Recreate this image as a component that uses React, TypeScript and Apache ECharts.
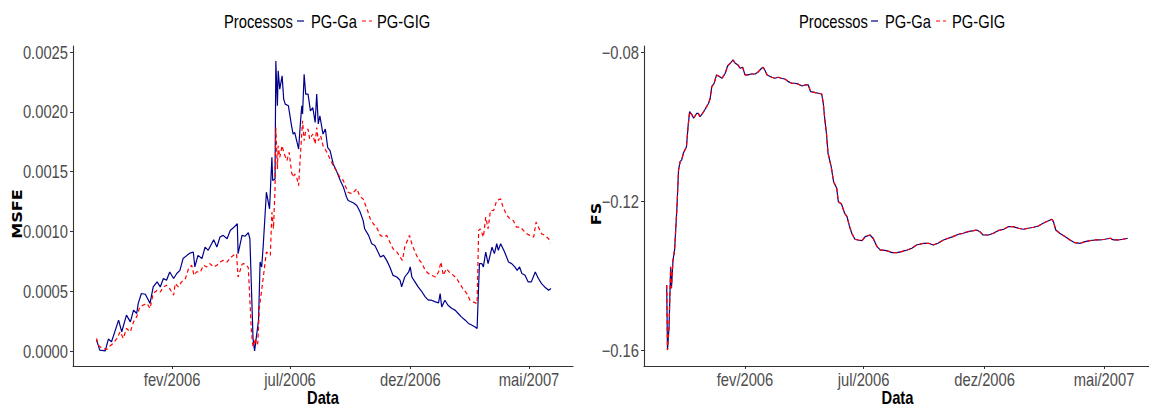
import { useEffect, useRef } from "react";
import * as echarts from "echarts";

// Observation dates are stored as day offsets from the first day of the sample.
const BASE_DATE = Date.UTC(2005, 9, 25);
const DAY_MS = 86400000;

const MONTHS_PT = ["jan", "fev", "mar", "abr", "mai", "jun", "jul", "ago", "set", "out", "nov", "dez"];
const xTickDates = ["2006-02-01", "2006-07-01", "2006-12-01", "2007-05-01"];
const msfeTicks = [0, 0.0005, 0.001, 0.0015, 0.002, 0.0025];
const fsTicks = [-0.16, -0.12, -0.08];

const legendTitle = "Processos";
const seriesNames = ["PG-Ga", "PG-GIG"];
const xTitle = "Data";
const yTitles = ["MSFE", "FS"];

// MSFE, PG-Ga process
const msfeGaDays = [
  3, 7, 14, 18, 22, 31, 35, 41, 46, 50, 54, 56, 60, 65, 69, 71, 75, 80, 84, 88, 92, 96, 101, 105, 109, 113, 118,
  122, 126, 128, 132, 137, 141, 145, 152, 156, 160, 164, 169, 173, 177, 182, 183, 188, 192, 196, 198, 202, 204,
  206, 209, 211, 213, 215, 219, 223, 226, 227, 230, 231, 233, 234, 236, 239, 241, 243, 247, 251, 253, 255, 258,
  260, 262, 264, 265, 267, 269, 272, 275, 278, 281, 283, 285, 287, 291, 294, 297, 300, 304, 308, 313, 317, 319,
  321, 323, 330, 334, 338, 342, 344, 349, 353, 357, 361, 364, 368, 372, 376, 380, 385, 389, 391, 395, 400, 402,
  404, 408, 412, 417, 421, 425, 429, 434, 438, 440, 442, 446, 450, 455, 459, 463, 467, 472, 476, 480, 484, 487,
  490, 493, 495, 498, 501, 506, 509, 512, 514, 517, 522, 527, 531, 535, 538, 541, 544, 548, 552, 556, 561, 565,
  569, 573, 578, 581,
];
const msfeGaValues = [
  0.000092, 0.000008, 0.000002, 0.0001, 0.000078, 0.000258, 0.000161, 0.0003, 0.000244, 0.000342, 0.000314,
  0.000398, 0.000481, 0.000475, 0.000425, 0.000398, 0.000536, 0.000578, 0.000536, 0.000606, 0.000592, 0.000661,
  0.000606, 0.000648, 0.000675, 0.000773, 0.0008, 0.000819, 0.000828, 0.000703, 0.0008, 0.000773, 0.000869,
  0.000842, 0.000931, 0.000869, 0.000953, 0.000967, 0.000939, 0.001008, 0.00103, 0.001064, 0.000814, 0.000967,
  0.00096, 0.000989, 0.000939, 0.000106, 0.0, 0.000106, 0.000258, 0.000744, 0.000703, 0.000883, 0.001328,
  0.001189, 0.001619, 0.001425, 0.001439, 0.002425, 0.00205, 0.002342, 0.002189, 0.0023, 0.002106, 0.002064,
  0.00205, 0.001883, 0.001814, 0.001828, 0.001744, 0.001689, 0.001883, 0.00205, 0.001981, 0.002314, 0.002148,
  0.002148, 0.002008, 0.002036, 0.001911, 0.002148, 0.001898, 0.001967, 0.001814, 0.001856, 0.0017, 0.001675,
  0.001564, 0.001508, 0.001425, 0.001369, 0.001328, 0.001286, 0.001258, 0.001238, 0.001217, 0.001167, 0.001092,
  0.001022, 0.000967, 0.000897, 0.000883, 0.000828, 0.000786, 0.0008, 0.000758, 0.000703, 0.000633, 0.000619,
  0.000592, 0.000536, 0.000619, 0.000661, 0.000703, 0.000619, 0.000578, 0.000536, 0.000494, 0.000453, 0.000425,
  0.000425, 0.000411, 0.000403, 0.000481, 0.000369, 0.000425, 0.000383, 0.000356, 0.000342, 0.000314, 0.000286,
  0.000258, 0.000231, 0.000217, 0.000203, 0.000189, 0.000731, 0.000731, 0.000703, 0.000828, 0.000731, 0.000869,
  0.000814, 0.000897, 0.000842, 0.000897, 0.000828, 0.000744, 0.000731, 0.000703, 0.000675, 0.000703, 0.000648,
  0.000633, 0.000578, 0.000578, 0.000661, 0.000606, 0.000564, 0.000536, 0.000508, 0.000522,
];

// MSFE, PG-GIG process
const msfeGigDays = [
  3, 5, 10, 16, 20, 24, 29, 33, 37, 41, 46, 50, 54, 58, 62, 67, 71, 75, 80, 84, 88, 92, 96, 101, 103, 107, 111,
  116, 120, 124, 127, 130, 135, 139, 143, 147, 152, 156, 160, 164, 169, 173, 177, 181, 183, 188, 190, 194, 196,
  200, 202, 205, 206, 208, 210, 215, 219, 224, 226, 228, 230, 231, 233, 234, 236, 239, 241, 245, 248, 251, 253,
  255, 258, 260, 262, 265, 267, 269, 272, 274, 278, 281, 283, 285, 288, 291, 296, 300, 304, 308, 313, 317, 319,
  321, 323, 328, 334, 338, 342, 347, 351, 355, 359, 364, 368, 372, 376, 380, 385, 389, 392, 395, 401, 404, 408,
  412, 417, 421, 425, 429, 434, 438, 441, 444, 448, 453, 457, 461, 465, 469, 474, 478, 482, 487, 489, 491, 495,
  498, 501, 504, 508, 512, 517, 520, 525, 529, 533, 537, 542, 546, 550, 554, 559, 562, 565, 569, 573, 578, 580,
];
const msfeGigValues = [
  0.000106, 0.00005, 0.000022, 0.000014, 0.000042, 0.000064, 0.000106, 0.000161, 0.000106, 0.000189, 0.000161,
  0.000244, 0.000286, 0.000369, 0.000383, 0.000398, 0.000356, 0.000481, 0.000508, 0.000494, 0.000536, 0.00055,
  0.000522, 0.000467, 0.000564, 0.000536, 0.000578, 0.000606, 0.000689, 0.000717, 0.000633, 0.000661, 0.000661,
  0.000717, 0.000703, 0.000731, 0.000703, 0.000717, 0.000744, 0.000758, 0.000744, 0.000779, 0.0008, 0.000814,
  0.000619, 0.000725, 0.000731, 0.000717, 0.000696, 0.000158, 0.000036, 0.000106, 0.00005, 0.000064, 0.000356,
  0.000613, 0.000828, 0.0008, 0.001161, 0.001022, 0.001356, 0.001869, 0.001522, 0.001717, 0.001619, 0.001717,
  0.001661, 0.001592, 0.001661, 0.001494, 0.001453, 0.001481, 0.001439, 0.001383, 0.001606, 0.001925, 0.001758,
  0.001842, 0.001856, 0.001772, 0.001814, 0.001731, 0.001869, 0.001758, 0.0018, 0.001717, 0.001661, 0.001606,
  0.00155, 0.001508, 0.001446, 0.001425, 0.001383, 0.001356, 0.001328, 0.001314, 0.001356, 0.001292, 0.001272,
  0.001189, 0.001106, 0.001064, 0.001036, 0.000967, 0.000953, 0.000967, 0.000911, 0.000856, 0.000828, 0.000786,
  0.000758, 0.000869, 0.000967, 0.000897, 0.000828, 0.000773, 0.000731, 0.000675, 0.000648, 0.000633, 0.000619,
  0.000661, 0.000744, 0.000633, 0.000689, 0.000648, 0.000633, 0.000606, 0.000564, 0.000522, 0.000481, 0.000425,
  0.000411, 0.000397, 0.001008, 0.001022, 0.000953, 0.001119, 0.001022, 0.001175, 0.001175, 0.001258, 0.001272,
  0.001203, 0.001133, 0.001106, 0.001092, 0.001036, 0.001036, 0.001008, 0.000981, 0.000967, 0.000953, 0.001078,
  0.001036, 0.000981, 0.000967, 0.000939, 0.000903,
];

// FS, both processes (the two curves coincide)
const fsDays = [
  0, 1, 3, 5, 6, 8, 10, 13, 15, 17, 19, 21, 23, 25, 27, 29, 32, 34, 38, 40, 42, 44, 48, 53, 55, 57, 60, 63, 67,
  70, 74, 77, 81, 84, 86, 90, 93, 96, 99, 103, 107, 112, 116, 120, 122, 124, 127, 133, 137, 141, 145, 150, 154,
  158, 162, 166, 171, 175, 179, 182, 188, 192, 196, 198, 200, 202, 204, 208, 211, 215, 217, 221, 225, 228, 231,
  234, 238, 242, 247, 251, 257, 261, 266, 270, 278, 285, 291, 297, 304, 310, 316, 325, 331, 337, 343, 350, 356,
  362, 369, 375, 381, 388, 392, 396, 400, 407, 413, 419, 426, 432, 438, 445, 451, 457, 464, 470, 476, 483, 487,
  489, 492, 497, 504, 510, 516, 523, 529, 535, 542, 548, 554, 561, 565, 571, 577, 583,
];
const fsGaValues = [
  -0.14255, -0.16, -0.15374, -0.13764, -0.14344, -0.13584, -0.13315, -0.12153, -0.11168, -0.10945, -0.10899,
  -0.10719, -0.10631, -0.10542, -0.10005, -0.09603, -0.09691, -0.0978, -0.09646, -0.09646, -0.09737, -0.09691,
  -0.09557, -0.09377, -0.09243, -0.08932, -0.0884, -0.08617, -0.08663, -0.08706, -0.08572, -0.08376, -0.08287,
  -0.08215, -0.08287, -0.08349, -0.08438, -0.08411, -0.08617, -0.08617, -0.08591, -0.08591, -0.08529, -0.08438,
  -0.08411, -0.08483, -0.08617, -0.08679, -0.08706, -0.08679, -0.08706, -0.08733, -0.08797, -0.0884, -0.0884,
  -0.08859, -0.08913, -0.08886, -0.08886, -0.09066, -0.09093, -0.09109, -0.09128, -0.09377, -0.09826, -0.10183,
  -0.10719, -0.11079, -0.11482, -0.11659, -0.12019, -0.1208, -0.1233, -0.12421, -0.12671, -0.12867, -0.13028,
  -0.13047, -0.13066, -0.12958, -0.12913, -0.13001, -0.13227, -0.13315, -0.13334, -0.13388, -0.13388, -0.13361,
  -0.13315, -0.1327, -0.13181, -0.13136, -0.13136, -0.13181, -0.13136, -0.13047, -0.13001, -0.12958, -0.12894,
  -0.12867, -0.12824, -0.12797, -0.12779, -0.12824, -0.12913, -0.12913, -0.12867, -0.12797, -0.1276, -0.1269,
  -0.1269, -0.12733, -0.1276, -0.12733, -0.12706, -0.12671, -0.12599, -0.12529, -0.12491, -0.12556, -0.12779,
  -0.12867, -0.12958, -0.13047, -0.1312, -0.13136, -0.13093, -0.13066, -0.13047, -0.13047, -0.13028, -0.13001,
  -0.13047, -0.13047, -0.13028, -0.13001,
];
const fsGigValues = fsGaValues;

// Text is set in Liberation Sans squeezed horizontally to get a narrow face.
const FONT = '"Liberation Sans", Arial, sans-serif';
const NARROW_SCALE = 0.82;
const TITLE_FONT = '"DejaVu Sans", sans-serif';
const GA_COLOR = "#00008B";
const GIG_COLOR = "#FF0000";
const AXIS_COLOR = "#333333";
const LABEL_COLOR = "#4D4D4D";
const GIG_DASH = [4, 3];

const GRID_TOP = 46;
const GRID_HEIGHT = 320;
const GRIDS = [
  { left: 73, width: 500, minDay: -27, maxDay: 609, yMin: -0.000125, yMax: 0.00255, titleX: 17 },
  { left: 644, width: 507, minDay: -28.7, maxDay: 612.4, yMin: -0.1643, yMax: -0.0784, titleX: 596 },
];
const TICK_LEN = 3;

const toPairs = (days: number[], values: number[]) =>
  days.map((d, i) => [BASE_DATE + d * DAY_MS, values[i]]);

const dayToTime = (d: number) => BASE_DATE + d * DAY_MS;

const formatMonth = (v: number) => {
  const dt = new Date(v);
  return `${MONTHS_PT[dt.getUTCMonth()]}/${dt.getUTCFullYear()}`;
};

const yFormatters = [
  (v: number) => v.toFixed(4),
  (v: number) => v.toFixed(2).replace("-", "\u2212"),
];

const narrowText = (
  text: string,
  x: number,
  y: number,
  opts: { size?: number; bold?: boolean; color?: string; align?: string; vAlign?: string } = {}
) => ({
  type: "text",
  x,
  y,
  scaleX: NARROW_SCALE,
  silent: true,
  style: {
    text,
    fontFamily: FONT,
    fontSize: opts.size ?? 18,
    fontWeight: opts.bold ? "bold" : "normal",
    fill: opts.color ?? "#000",
    align: opts.align ?? "left",
    verticalAlign: opts.vAlign ?? "middle",
  },
});

export default function App() {
  const ref = useRef<HTMLDivElement>(null);

  useEffect(() => {
    document.body.style.margin = "0";
    if (!ref.current) return;
    const chart = echarts.init(ref.current, undefined, { renderer: "svg" });

    const xTicks = xTickDates.map((s) => new Date(s).getTime());
    const yTicks = [msfeTicks, fsTicks];

    const lineSeries = (name: string, xi: number, data: number[][], color: string, dashed: boolean) => ({
      name,
      type: "line",
      xAxisIndex: xi,
      yAxisIndex: xi,
      data,
      symbol: "none",
      showSymbol: false,
      lineStyle: { color, width: 1.2, type: dashed ? GIG_DASH : "solid" },
      itemStyle: { color },
      emphasis: { disabled: true },
    });

    chart.setOption({
      animation: false,
      backgroundColor: "#FFFFFF",
      grid: GRIDS.map((g) => ({
        left: g.left,
        top: GRID_TOP,
        width: g.width,
        height: GRID_HEIGHT,
        outerBoundsMode: "none",
        containLabel: false,
      })),
      xAxis: GRIDS.map((g, i) => ({
        type: "value",
        gridIndex: i,
        min: dayToTime(g.minDay),
        max: dayToTime(g.maxDay),
        axisLine: { onZero: false, lineStyle: { color: AXIS_COLOR, width: 1.1 } },
        axisTick: { show: true, length: TICK_LEN, customValues: xTicks, lineStyle: { color: AXIS_COLOR } },
        axisLabel: { show: false, customValues: xTicks },
        splitLine: { show: false },
      })),
      yAxis: GRIDS.map((g, i) => ({
        type: "value",
        gridIndex: i,
        min: g.yMin,
        max: g.yMax,
        axisLine: { show: true, onZero: false, lineStyle: { color: AXIS_COLOR, width: 1.1 } },
        axisTick: { show: true, length: TICK_LEN, customValues: yTicks[i], lineStyle: { color: AXIS_COLOR } },
        axisLabel: { show: false, customValues: yTicks[i] },
        splitLine: { show: false },
      })),
      series: [
        lineSeries(seriesNames[0], 0, toPairs(msfeGaDays, msfeGaValues), GA_COLOR, false),
        lineSeries(seriesNames[1], 0, toPairs(msfeGigDays, msfeGigValues), GIG_COLOR, true),
        lineSeries(seriesNames[0], 1, toPairs(fsDays, fsGaValues), GA_COLOR, false),
        lineSeries(seriesNames[1], 1, toPairs(fsDays, fsGigValues), GIG_COLOR, true),
      ],
    });

    // Tick labels, titles and legends, placed from the axes' own scales.
    const elements: any[] = [];
    const axisBottom = GRID_TOP + GRID_HEIGHT;

    GRIDS.forEach((g, i) => {
      xTicks.forEach((t) => {
        const px = chart.convertToPixel({ xAxisIndex: i }, t) as number;
        elements.push(narrowText(formatMonth(t), px, axisBottom + 13, { color: LABEL_COLOR, align: "center" }));
      });
      yTicks[i].forEach((v) => {
        const py = chart.convertToPixel({ yAxisIndex: i }, v) as number;
        elements.push(narrowText(yFormatters[i](v), g.left - TICK_LEN - 2, py, { color: LABEL_COLOR, align: "right" }));
      });
      elements.push(narrowText(xTitle, g.left + g.width / 2, 397, { size: 18, bold: true, align: "center" }));
      elements.push({
        type: "text",
        x: g.titleX,
        y: 214,
        rotation: Math.PI / 2,
        scaleX: 1.15,
        silent: true,
        style: {
          text: yTitles[i],
          fontFamily: TITLE_FONT,
          fontSize: 14,
          fontWeight: "bold",
          fill: "#000",
          align: "center",
          verticalAlign: "middle",
        },
      });
    });

    // Legends: title, solid key, label, dashed key, label
    const legendRows = [
      { title: 224, key1: 297, label1: 311, key2: 362, label2: 377 },
      { title: 799, key1: 871, label1: 885, key2: 936, label2: 952 },
    ];
    const LEGEND_Y = 21;
    legendRows.forEach((r) => {
      elements.push(narrowText(legendTitle, r.title, LEGEND_Y));
      elements.push({
        type: "line",
        silent: true,
        shape: { x1: r.key1, y1: LEGEND_Y, x2: r.key1 + 7, y2: LEGEND_Y },
        style: { stroke: GA_COLOR, lineWidth: 1.2 },
      });
      elements.push(narrowText(seriesNames[0], r.label1, LEGEND_Y));
      elements.push({
        type: "line",
        silent: true,
        shape: { x1: r.key2, y1: LEGEND_Y, x2: r.key2 + 10, y2: LEGEND_Y },
        style: { stroke: GIG_COLOR, lineWidth: 1.2, lineDash: GIG_DASH },
      });
      elements.push(narrowText(seriesNames[1], r.label2, LEGEND_Y));
    });

    chart.setOption({ graphic: elements });

    return () => chart.dispose();
  }, []);

  return <div ref={ref} style={{ width: 1149, height: 408, background: "#FFFFFF" }} />;
}
